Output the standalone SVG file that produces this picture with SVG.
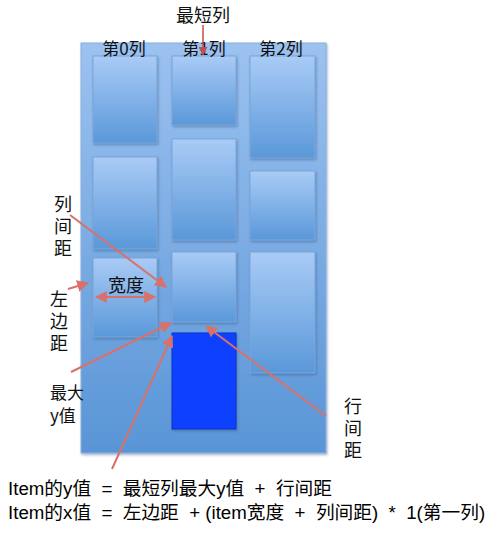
<svg xmlns="http://www.w3.org/2000/svg" width="500" height="533" viewBox="0 0 500 533">
<defs>
<linearGradient id="bg" x1="0" y1="0" x2="0" y2="1">
<stop offset="0" stop-color="#9cc2f0"/>
<stop offset="1" stop-color="#5995d6"/>
</linearGradient>
<linearGradient id="card" x1="0" y1="0" x2="0" y2="1">
<stop offset="0" stop-color="#a9cbf6"/>
<stop offset="1" stop-color="#5a98d9"/>
</linearGradient>
<marker id="ah" viewBox="0 0 10 10" refX="9" refY="5" markerWidth="6" markerHeight="6" orient="auto-start-reverse">
<path d="M0,0 L10,5 L0,10 z" fill="#d9716a"/>
</marker>
<marker id="ahd" viewBox="0 0 10 10" refX="9" refY="5" markerWidth="6" markerHeight="6" orient="auto">
<path d="M0,0 L10,5 L0,10 z" fill="#c0504d"/>
</marker>
<filter id="sh" x="-10%" y="-10%" width="130%" height="130%">
<feDropShadow dx="1" dy="1.5" stdDeviation="0.8" flood-color="#2a4f80" flood-opacity="0.45"/>
</filter>
</defs>
<style>
.card{fill:url(#card);stroke:#7aa6d8;stroke-width:1;filter:url(#sh)}
.t{font-family:"Noto Sans CJK SC","Liberation Sans",sans-serif;font-size:18px;fill:#111}
.h{font-size:17px}
.v{writing-mode:vertical-rl;letter-spacing:4px}
.f{font-family:"Liberation Sans","Noto Sans CJK SC",sans-serif;font-size:18.7px;fill:#000}
.a{stroke:#d9716a;stroke-width:2;fill:none;marker-end:url(#ah)}
</style>
<g id="container">
<rect x="81" y="43" width="245" height="410" fill="url(#bg)" stroke="#8ab0de" stroke-width="1" filter="url(#sh)"/>
</g>
<g id="col0">
<rect class="card" x="93" y="56" width="64" height="87"/>
<rect class="card" x="93" y="157" width="64" height="92"/>
<rect class="card" x="93" y="258" width="64" height="79"/>
</g>
<g id="col1">
<rect class="card" x="172" y="56" width="64" height="69"/>
<rect class="card" x="172" y="139" width="64" height="101"/>
<rect class="card" x="172" y="252" width="64" height="70"/>
<rect id="newItem" x="172" y="333" width="64" height="96" fill="#1040ff" stroke="#0a30d0" stroke-width="1" filter="url(#sh)"/>
</g>
<g id="col2">
<rect class="card" x="250" y="56" width="65" height="102"/>
<rect class="card" x="250" y="171" width="65" height="69"/>
<rect class="card" x="250" y="252" width="65" height="121"/>
</g>
<g id="labels">
<text class="t" x="203" y="22" text-anchor="middle">最短列</text>
<text class="t h" x="124" y="55" text-anchor="middle">第0列</text>
<text class="t h" x="204" y="55" text-anchor="middle">第1列</text>
<text class="t h" x="281" y="55" text-anchor="middle">第2列</text>
<text class="t v" x="63" y="195">列间距</text>
<text class="t" x="126" y="292" text-anchor="middle">宽度</text>
<text class="t v" x="59" y="290">左边距</text>
<text class="t h" x="50" y="399">最大</text>
<text class="t h" x="50" y="422">y值</text>
<text class="t v" x="353" y="397">行间距</text>
<text class="f" x="8" y="495" xml:space="preserve">Item的y值  =  最短列最大y值  +  行间距</text>
<text class="f" x="8" y="519" xml:space="preserve">Item的x值  =  左边距  + (item宽度  +  列间距)  *  1(第一列)</text>
</g>
<g id="connectors">
<line x1="203" y1="25" x2="203" y2="55" stroke="#c0504d" stroke-width="1.5" marker-end="url(#ahd)"/>
<line class="a" x1="70" y1="215" x2="166" y2="287"/>
<line class="a" x1="68" y1="289" x2="88" y2="283"/>
<line class="a" x1="96" y1="297" x2="155" y2="297" marker-start="url(#ah)"/>
<line class="a" x1="71" y1="372" x2="171" y2="323"/>
<line class="a" x1="112" y1="469" x2="172" y2="336"/>
<line class="a" x1="326" y1="416" x2="206" y2="326"/>
</g>
</svg>
